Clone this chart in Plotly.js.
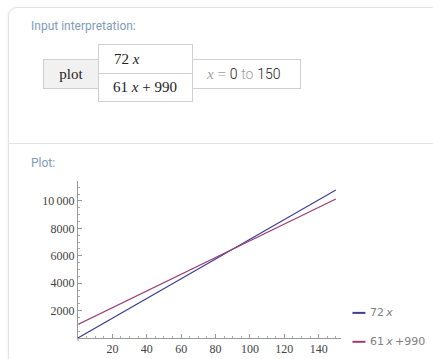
<!DOCTYPE html>
<html>
<head>
<meta charset="utf-8">
<script src="https://cdn.plot.ly/plotly-3.0.1.min.js"></script>
<style>
  html, body { margin:0; padding:0; background:#ffffff; width:433px; height:359px; overflow:hidden; }
  #card { position:absolute; left:8px; top:7px; width:460px; height:400px; border:1px solid #e3e3e3; border-radius:9px; box-shadow:0 0 4px rgba(0,0,0,0.06); background:#fff; }
  #sep { position:absolute; left:9px; top:143px; width:424px; height:1px; background:#e3e3e3; }
  .hdr { position:absolute; font-family:Roboto, "Open Sans", sans-serif; font-size:12px; color:#7f9db8; }
  .box { position:absolute; border:1px solid #d0d0d0; box-sizing:border-box; font-family:"Liberation Serif", serif; font-size:15px; color:#222; }
  .it { font-style:italic; }
  .g { color:#a0a0a0; }
  .s { font-family:Roboto,sans-serif; font-size:14px; font-weight:300; }
  #chart { position:absolute; left:0; top:0; width:433px; height:359px; }
</style>
</head>
<body>
<div id="card"></div>
<div id="sep"></div>
<div class="hdr" style="left:31px; top:19px;">Input interpretation:</div>
<div class="box" style="left:43px; top:59px; width:56px; height:30px; background:#f1f1f1; text-align:center; line-height:28px;">plot</div>
<div class="box" style="left:98px; top:44px; width:95px; height:30px; line-height:28px; padding-left:15px;">72 <span class="it">x</span></div>
<div class="box" style="left:98px; top:73px; width:95px; height:29px; line-height:27px; padding-left:14px;">61 <span class="it">x</span> + 990</div>
<div class="box" style="left:192px; top:59px; width:109px; height:30px; line-height:28px; padding-left:14px;"><span class="it g">x</span> <span class="g">=</span> <span class="s" style="color:#222;">0</span> <span class="g s">to</span> <span class="s" style="color:#222;">150</span></div>
<div class="hdr" style="left:31px; top:156px;">Plot:</div>
<div id="chart"></div>
<script>
// Data
var xRange = [0, 150];
var series1Name = "72 x";
var series1Y = [0, 10800];
var series2Name = "61 x +990";
var series2Y = [990, 10140];
var xTickVals = [20, 40, 60, 80, 100, 120, 140];
var xTickText = ["20", "40", "60", "80", "100", "120", "140"];
var yTickVals = [2000, 4000, 6000, 8000, 10000];
var yTickText = ["2000", "4000", "6000", "8000", "10\u2009000"];

var blue = "#3d3d99";
var purple = "#993d71";

var traces = [
  { x: xRange, y: series1Y, name: series1Name, mode: "lines", line: { color: blue, width: 1.1 }, hoverinfo: "none" },
  { x: xRange, y: series2Y, name: series2Name, mode: "lines", line: { color: purple, width: 1.1 }, hoverinfo: "none" }
];

var L = 77.5, R = 341.5, T = 180.7, B = 338.2;
var W = 433, H = 359;
function px2x(p) { return (p - L) / (R - L); }
function px2y(p) { return (B - p) / (B - T); }

var legendItems = [
  { name: series1Name, color: blue, y: 313 },
  { name: series2Name, color: purple, y: 342 }
];
var shapes = [];
var annotations = [];
legendItems.forEach(function (it) {
  shapes.push({ type: "line", xref: "paper", yref: "paper", x0: px2x(353), x1: px2x(366), y0: px2y(it.y), y1: px2y(it.y), line: { color: it.color, width: 2 } });
  var parts = it.name.split("x");
  var txt = parts[0].replace(" ", "\u2009") + "<i>x</i>" + parts[1].replace(" ", "\u2009");
  annotations.push({ xref: "paper", yref: "paper", x: px2x(369), y: px2y(it.y), xanchor: "left", yanchor: "middle", text: txt, showarrow: false, font: { family: "DejaVu Sans, sans-serif", size: 11, color: "#808080" } });
});
// short extension of the vertical axis below the horizontal axis
shapes.push({ type: "line", xref: "paper", yref: "paper", x0: 0, x1: 0, y0: 0, y1: px2y(B + 3), line: { color: "#999999", width: 1 } });

var axisCommon = {
  showgrid: false, zeroline: false, showline: true, linecolor: "#999999", linewidth: 1,
  ticks: "inside", ticklen: 4, tickcolor: "#999999", tickwidth: 1,
  tickfont: { family: "Liberation Serif, serif", size: 12, color: "#444444" },
  fixedrange: true
};

var layout = {
  width: W, height: H,
  margin: { l: L, r: W - R, t: T, b: H - B, pad: 0 },
  paper_bgcolor: "rgba(0,0,0,0)",
  plot_bgcolor: "rgba(0,0,0,0)",
  showlegend: false,
  xaxis: Object.assign({}, axisCommon, {
    range: [0, 153], tickmode: "array", tickvals: xTickVals, ticktext: xTickText,
    minor: { dtick: 5, tick0: 0, ticks: "inside", ticklen: 2, tickcolor: "#aaaaaa" }
  }),
  yaxis: Object.assign({}, axisCommon, {
    range: [0, 11454], tickmode: "array", tickvals: yTickVals, ticktext: yTickText,
    minor: { dtick: 500, tick0: 0, ticks: "inside", ticklen: 2, tickcolor: "#aaaaaa" }
  }),
  shapes: shapes,
  annotations: annotations
};

Plotly.newPlot("chart", traces, layout, { staticPlot: true, displayModeBar: false });
</script>
</body>
</html>
